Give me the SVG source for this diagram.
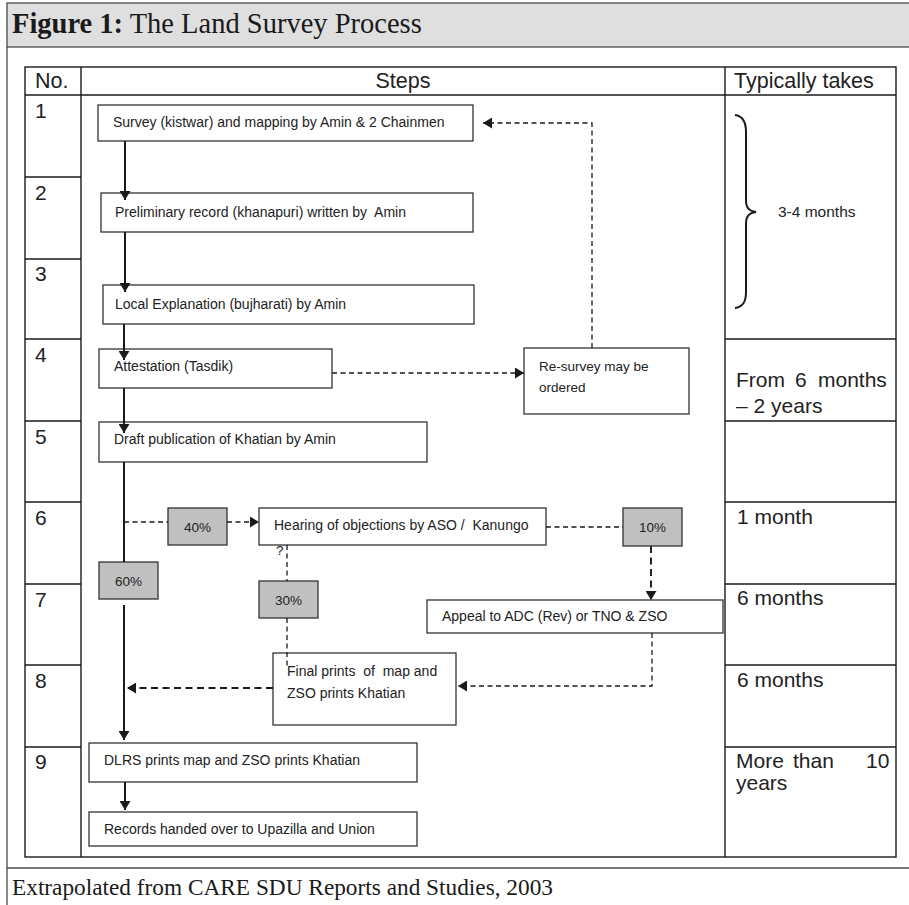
<svg xmlns="http://www.w3.org/2000/svg" width="909" height="905" viewBox="0 0 909 905">
  <defs>
    <style>
      .band{fill:#dfdfe0;stroke:#4a4a4a;stroke-width:1.3}
      .rule{stroke:#4a4a4a;stroke-width:1.3;fill:none}
      .grid{stroke:#1a1a1a;stroke-width:1.4;fill:none}
      .box{fill:#fff;stroke:#333;stroke-width:1.3}
      .pct{fill:#c0c0c0;stroke:#333;stroke-width:1.3}
      .sans{font-family:"Liberation Sans",Arial,sans-serif;fill:#222;white-space:pre}
      .serif{font-family:"Liberation Serif","Times New Roman",serif;fill:#1a1a1a}
      .hd{font-size:21.5px}
      .num{font-size:21px}
      .dur{font-size:21px}
      .node{font-size:14px}
      .small{font-size:13.5px}
      .solid{stroke:#1a1a1a;stroke-width:2;fill:none}
      .dash{stroke:#1a1a1a;stroke-width:1.3;fill:none;stroke-dasharray:5 3.5}
      .dashb{stroke:#1a1a1a;stroke-width:1.9;fill:none;stroke-dasharray:7 4.5}
    </style>
    <marker id="arrow" viewBox="0 0 10 10" refX="10" refY="5" markerWidth="9" markerHeight="11" markerUnits="userSpaceOnUse" orient="auto" preserveAspectRatio="none">
      <path d="M0,0 L10,5 L0,10 z" fill="#1a1a1a"/>
    </marker>
  </defs>

  <rect width="909" height="905" fill="#fff"/>

  <!-- title band and outer frame -->
  <g id="title">
    <rect class="band" x="7" y="3" width="905" height="44"/>
    <text class="serif" font-size="28.5" x="12" y="33"><tspan font-weight="bold">Figure 1:</tspan> The Land Survey Process</text>
  </g>
  <line class="rule" x1="7" y1="47" x2="7" y2="905"/>
  <line class="rule" x1="7" y1="868" x2="909" y2="868"/>
  <g id="source">
    <text class="serif" font-size="23.3" x="12" y="895">Extrapolated from CARE SDU Reports and Studies, 2003</text>
  </g>

  <!-- table grid -->
  <g id="table">
    <rect class="grid" x="25" y="67" width="871" height="790"/>
    <line class="grid" x1="81" y1="67" x2="81" y2="857"/>
    <line class="grid" x1="725" y1="67" x2="725" y2="857"/>
    <line class="grid" x1="25" y1="95" x2="896" y2="95"/>
    <path class="grid" d="M25,177H81 M25,259H81 M25,339H81 M725,339H896 M25,421H81 M725,421H896 M25,502H81 M725,502H896 M25,584H81 M725,584H896 M25,665H81 M725,665H896 M25,747H81 M725,747H896"/>
    <g class="sans hd">
      <text x="35" y="88">No.</text>
      <text x="403" y="88" text-anchor="middle">Steps</text>
      <text x="734" y="88">Typically takes</text>
    </g>
    <g class="sans num">
      <text x="35" y="118">1</text>
      <text x="35" y="200">2</text>
      <text x="35" y="281">3</text>
      <text x="35" y="362">4</text>
      <text x="35" y="444">5</text>
      <text x="35" y="525">6</text>
      <text x="35" y="607">7</text>
      <text x="35" y="688">8</text>
      <text x="35" y="769">9</text>
    </g>
  </g>

  <!-- durations -->
  <g id="durations">
    <path class="solid" stroke-width="1.5" d="M735,115 C743,116 746,122 746,132 L746,200 C746,208 749,211 756,212 C749,213 746,216 746,224 L746,292 C746,302 743,307 735,308"/>
    <text class="sans" font-size="15.5" x="778" y="217">3-4 months</text>
    <text class="sans dur" y="387"><tspan x="736">From</tspan><tspan x="795">6</tspan><tspan x="818">months</tspan></text>
    <text class="sans dur" y="413"><tspan x="736">– 2 years</tspan></text>
    <text class="sans dur" x="737" y="524">1 month</text>
    <text class="sans dur" x="737" y="605">6 months</text>
    <text class="sans dur" x="737" y="687">6 months</text>
    <text class="sans dur" y="768"><tspan x="736">More</tspan><tspan x="793">than</tspan><tspan x="866">10</tspan></text>
    <text class="sans dur" x="736" y="790">years</text>
  </g>

  <!-- process steps -->
  <g id="n-survey">
    <rect class="box" x="98" y="105" width="375" height="36"/>
    <text class="sans node" x="113" y="127">Survey (kistwar) and mapping by Amin &amp; 2 Chainmen</text>
  </g>
  <g id="n-preliminary">
    <rect class="box" x="101" y="193" width="372" height="39"/>
    <text class="sans node" x="115" y="217">Preliminary record (khanapuri) written by  Amin</text>
  </g>
  <g id="n-local">
    <rect class="box" x="103" y="285" width="371" height="39"/>
    <text class="sans node" x="115" y="309">Local Explanation (bujharati) by Amin</text>
  </g>
  <g id="n-attestation">
    <rect class="box" x="99" y="349" width="233" height="39"/>
    <text class="sans node" x="114" y="371">Attestation (Tasdik)</text>
  </g>
  <g id="n-resurvey">
    <rect class="box" x="524" y="348" width="165" height="66"/>
    <text class="sans small" x="539" y="371">Re-survey may be</text>
    <text class="sans small" x="539" y="392">ordered</text>
  </g>
  <g id="n-draft">
    <rect class="box" x="99" y="422" width="328" height="40"/>
    <text class="sans node" x="114" y="444">Draft publication of Khatian by Amin</text>
  </g>
  <g id="p40">
    <rect class="pct" x="168" y="508" width="59" height="37"/>
    <text class="sans small" x="197.5" y="532" text-anchor="middle">40%</text>
  </g>
  <g id="n-hearing">
    <rect class="box" x="259" y="508" width="287" height="37"/>
    <text class="sans node" x="274" y="530">Hearing of objections by ASO /  Kanungo</text>
    <text class="sans small" x="276" y="555">?</text>
  </g>
  <g id="p10">
    <rect class="pct" x="623" y="508" width="59" height="38"/>
    <text class="sans small" x="652.5" y="532" text-anchor="middle">10%</text>
  </g>
  <g id="p60">
    <rect class="pct" x="99" y="562" width="59" height="37"/>
    <text class="sans small" x="128.5" y="586" text-anchor="middle">60%</text>
  </g>
  <g id="p30">
    <rect class="pct" x="259" y="581" width="59" height="37"/>
    <text class="sans small" x="288.5" y="605" text-anchor="middle">30%</text>
  </g>
  <g id="n-appeal">
    <rect class="box" x="427" y="600" width="296" height="33"/>
    <text class="sans node" x="442" y="621">Appeal to ADC (Rev) or TNO &amp; ZSO</text>
  </g>
  <g id="n-final">
    <rect class="box" x="273" y="653" width="183" height="72"/>
    <text class="sans node" x="287" y="676">Final prints  of  map and</text>
    <text class="sans node" x="287" y="698">ZSO prints Khatian</text>
  </g>
  <g id="n-dlrs">
    <rect class="box" x="89" y="743" width="328" height="39"/>
    <text class="sans node" x="104" y="765">DLRS prints map and ZSO prints Khatian</text>
  </g>
  <g id="n-records">
    <rect class="box" x="89" y="812" width="328" height="34"/>
    <text class="sans node" x="104" y="834">Records handed over to Upazilla and Union</text>
  </g>

  <!-- connectors (drawn last so arrowheads sit over box edges) -->
  <g id="connectors">
    <line class="solid" x1="125" y1="141" x2="125" y2="200" marker-end="url(#arrow)"/>
    <line class="solid" x1="125" y1="232" x2="125" y2="292" marker-end="url(#arrow)"/>
    <line class="solid" x1="124" y1="324" x2="124" y2="360" marker-end="url(#arrow)"/>
    <line class="solid" x1="124" y1="388" x2="124" y2="433" marker-end="url(#arrow)"/>
    <line class="solid" x1="124" y1="462" x2="124" y2="562"/>
    <line class="solid" x1="124" y1="605" x2="124" y2="740" marker-end="url(#arrow)"/>
    <line class="solid" x1="125" y1="782" x2="125" y2="810" marker-end="url(#arrow)"/>

    <line class="dash" x1="332" y1="373" x2="524" y2="373" marker-end="url(#arrow)"/>
    <polyline class="dash" points="592,348 592,123 483,123" marker-end="url(#arrow)"/>

    <line class="dash" x1="124" y1="522" x2="168" y2="522"/>
    <line class="dash" x1="227" y1="522" x2="259" y2="522" marker-end="url(#arrow)"/>
    <line class="dash" x1="546" y1="527" x2="623" y2="527"/>
    <line class="dashb" x1="651" y1="546" x2="651" y2="600" marker-end="url(#arrow)"/>
    <line class="dash" x1="287" y1="545" x2="287" y2="581"/>
    <line class="dash" x1="287" y1="618" x2="287" y2="668"/>
    <polyline class="dash" points="652,633 652,686 458,686" marker-end="url(#arrow)"/>
    <line class="dashb" x1="273" y1="688" x2="127" y2="688" marker-end="url(#arrow)"/>
  </g>
</svg>
